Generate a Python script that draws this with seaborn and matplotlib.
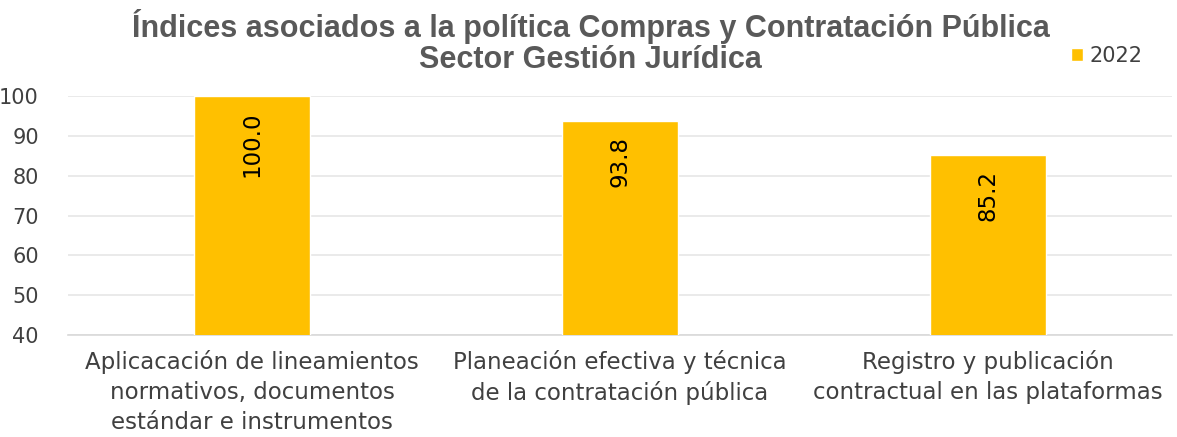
import pandas as pd
import seaborn as sns
import matplotlib.pyplot as plt

categories = ["Aplicacación de lineamientos\nnormativos, documentos\nestándar e instrumentos",
              "Planeación efectiva y técnica\nde la contratación pública",
              "Registro y publicación\ncontractual en las plataformas"]
values_2022 = [100.0, 93.8, 85.2]
series_name = "2022"
title = "Índices asociados a la política Compras y Contratación Pública\nSector Gestión Jurídica"

df = pd.DataFrame({"categoria": categories, "valor": values_2022, "serie": series_name})

sns.set_style("white")
plt.rcParams['font.family'] = ['DejaVu Sans']

fig = plt.figure(figsize=(11.77, 4.37), dpi=100)
ax = fig.add_axes([68 / 1177, 1 - 335 / 437, 1104 / 1177, 239 / 437])

sns.barplot(data=df, x="categoria", y="valor", hue="serie", palette=["#FFC000"],
            saturation=1, width=0.315, ax=ax, zorder=3)

ax.set_ylim(40, 100)
ax.set_yticks(range(40, 101, 10))
ax.grid(axis="y", color="#e6e6e6", linewidth=1.2, zorder=0)
for s in ["top", "right", "left"]:
    ax.spines[s].set_visible(False)
ax.spines["bottom"].set_color("#d9d9d9")
ax.spines["bottom"].set_linewidth(1.2)
ax.tick_params(axis="both", length=0, labelcolor="#404040")
ax.tick_params(axis="y", labelsize=15, pad=21)
ax.tick_params(axis="x", labelsize=16.5, pad=11)
for lbl in ax.get_xticklabels():
    lbl.set_linespacing(1.38)
ax.set_xlabel("")
ax.set_ylabel("")

for bar, v in zip(ax.patches, values_2022):
    ax.annotate(f"{v:.1f}", (bar.get_x() + bar.get_width() / 2, bar.get_height()),
                xytext=(0, -11), textcoords="offset points", rotation=90,
                ha="center", va="top", fontsize=16.5, color="black")

fig.text(0.502, 1 - 42 / 437, title, ha="center", va="center", fontsize=22,
         fontweight="bold", color="#595959", family="Liberation Sans", linespacing=1.05)

ax.legend(loc="center left", bbox_to_anchor=(1052 / 1177, 1 - 56 / 437),
          bbox_transform=fig.transFigure, frameon=False, fontsize=15,
          handlelength=0.6, handleheight=0.6, handletextpad=0.3,
          labelcolor="#404040")

fig.savefig("out.png", dpi=100)
